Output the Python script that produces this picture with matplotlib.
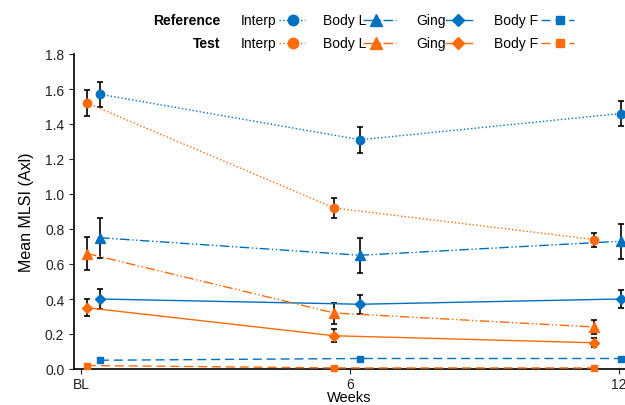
import matplotlib
matplotlib.use('Agg')
import matplotlib.pyplot as plt
from matplotlib.lines import Line2D

plt.rcParams['font.family'] = ['Liberation Sans', 'DejaVu Sans']

# Данные
tick_pos = [0, 6, 12]
tick_labels = ['BL', '6', '12']
ref_x = [0.42, 6.23, 12.05]
test_x = [0.13, 5.65, 11.45]

groups = ['Interp', 'Body L', 'Ging', 'Body F']

ref_mean = {
    'Interp': [1.57, 1.31, 1.46],
    'Body L': [0.75, 0.65, 0.73],
    'Ging': [0.40, 0.37, 0.40],
    'Body F': [0.05, 0.06, 0.06],
}
ref_err = {
    'Interp': [0.07, 0.075, 0.07],
    'Body L': [0.115, 0.10, 0.10],
    'Ging': [0.055, 0.055, 0.053],
    'Body F': [0.008, 0.008, 0.008],
}
test_mean = {
    'Interp': [1.52, 0.92, 0.74],
    'Body L': [0.66, 0.32, 0.24],
    'Ging': [0.35, 0.19, 0.15],
    'Body F': [0.02, 0.006, 0.006],
}
test_err = {
    'Interp': [0.072, 0.057, 0.04],
    'Body L': [0.094, 0.06, 0.042],
    'Ging': [0.048, 0.036, 0.026],
    'Body F': [0.004, 0.003, 0.003],
}

BLUE = '#0070C0'
ORANGE = '#FF6A0A'

styles = {
    'Interp': dict(ls=(0, (1, 1.6)), marker='o', ms=6, lms=7.5),
    'Body L': dict(ls=(0, (7, 1.8, 1, 1.8, 1, 1.8)), marker='^', ms=6.5, lms=8),
    'Ging': dict(ls='-', marker='D', ms=4.8, lms=6),
    'Body F': dict(ls=(0, (6.5, 3.5)), marker='s', ms=5, lms=6),
}

W, H = 625, 406
fig = plt.figure(figsize=(W / 100, H / 100), dpi=100)
ax = fig.add_axes([74 / W, 36 / H, (W - 74) / W, (370 - 55) / H])

for xs, means, errs, color in [(ref_x, ref_mean, ref_err, BLUE),
                               (test_x, test_mean, test_err, ORANGE)]:
    for g in groups:
        st = styles[g]
        ax.errorbar(xs, means[g], yerr=errs[g], fmt='none', ecolor='black',
                    elinewidth=1.2, capsize=2.5, capthick=1.2, zorder=2)
        ax.plot(xs, means[g], color=color, linestyle=st['ls'], linewidth=1,
                marker=st['marker'], markersize=st['ms'],
                markeredgecolor=color, markerfacecolor=color,
                zorder=3, clip_on=False)

ax.set_xlim(-0.16, 12.14)
ax.set_ylim(0, 1.8)
ax.set_yticks([0, 0.2, 0.4, 0.6, 0.8, 1.0, 1.2, 1.4, 1.6, 1.8])
ax.set_yticklabels([f'{v:.1f}' for v in ax.get_yticks()])
ax.set_xticks(tick_pos)
ax.set_xticklabels(tick_labels)
ax.tick_params(labelsize=10, direction='out', length=3.5, width=0.8,
               colors='#222222')
ax.tick_params(axis='x', pad=2)
ax.spines['top'].set_visible(False)
ax.spines['right'].set_visible(False)
ax.spines['left'].set_linewidth(1.2)
ax.spines['bottom'].set_linewidth(1.2)
ax.set_ylabel('Mean MLSI (Axl)', fontsize=11.5, labelpad=8)
ax.set_xlabel('Weeks', fontsize=10.5, va='bottom')
ax.xaxis.set_label_coords(0.5, -35 / 315)


# Легенда (собственная раскладка сверху)
def fx(px):
    return px / W


def fy(py):
    return 1 - py / H


rows = [('Reference', 21, BLUE), ('Test', 44, ORANGE)]
keys = [('Interp', 241, 279, 305, 293),
        ('Body L', 323, 363, 396, 376),
        ('Ging', 416, 446, 472, 458),
        ('Body F', 494, 541, 574, 560)]

for title, yy, color in rows:
    fig.text(fx(220), fy(yy), title, ha='right', va='center',
             fontsize=10, fontweight='bold')
    for g, tx, l0, l1, mx in keys:
        st = styles[g]
        fig.text(fx(tx), fy(yy), g, ha='left', va='center', fontsize=10)
        fig.add_artist(Line2D([fx(l0), fx(l1)], [fy(yy), fy(yy)],
                              transform=fig.transFigure, color=color,
                              linestyle=st['ls'], linewidth=1))
        fig.add_artist(Line2D([fx(mx)], [fy(yy)], transform=fig.transFigure,
                              color=color, marker=st['marker'],
                              markersize=st['lms'], linestyle='none'))

fig.savefig('out.png', dpi=100)
